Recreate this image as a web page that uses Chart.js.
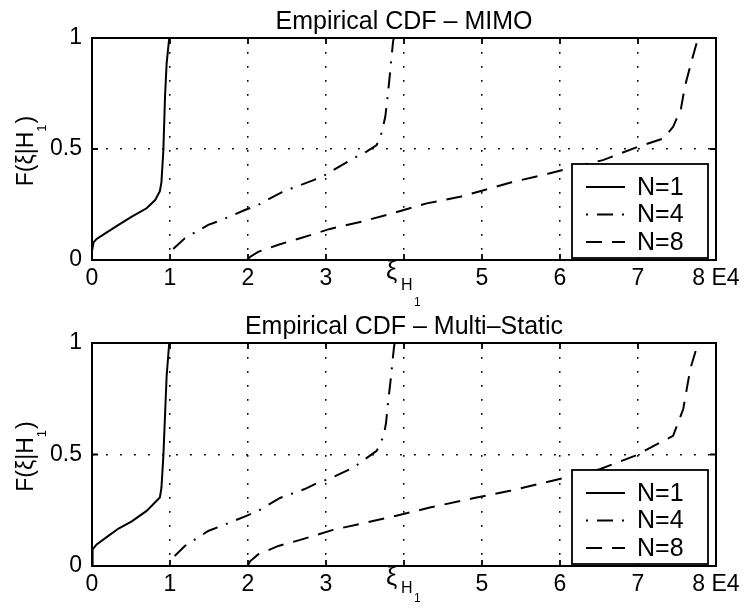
<!DOCTYPE html>
<html>
<head>
<meta charset="utf-8">
<script src="https://cdn.jsdelivr.net/npm/chart.js@4"></script>
<style>
  body { margin: 0; background: #fff; width: 749px; height: 610px; position: relative; overflow: hidden; }
  canvas { position: absolute; left: 0; display: block; }
  #mimoChart { top: 0; }
  #multiChart { top: 305px; }
</style>
</head>
<body>
<canvas id="mimoChart" width="749" height="320"></canvas>
<canvas id="multiChart" width="749" height="305"></canvas>
<script>
/* ---------- DATA (x in units of 1E4, y = empirical CDF) ---------- */
const seriesLabels = ["N=1", "N=4", "N=8"];
const xTicks = [0, 1, 2, 3, 4, 5, 6, 7, 8];
const xTickLabels = ["0", "1", "2", "3", "", "5", "6", "7", "8 E4"];
const yTicks = [0, 0.5, 1];

const mimoN1 = [[0, 0.04], [0.02, 0.08], [0.06, 0.095], [0.17, 0.12], [0.34, 0.158], [0.51, 0.195],
  [0.70, 0.233], [0.81, 0.27], [0.87, 0.31], [0.89, 0.35], [0.915, 0.495], [0.936, 0.735],
  [0.957, 0.886], [0.99, 1]];
const mimoN4 = [[1.04, 0.05], [1.19, 0.098], [1.49, 0.158], [1.66, 0.18], [1.96, 0.225], [2.13, 0.248],
  [2.43, 0.305], [2.84, 0.36], [2.99, 0.383], [3.35, 0.458], [3.52, 0.488], [3.65, 0.518],
  [3.71, 0.57], [3.76, 0.645], [3.79, 0.735], [3.82, 0.84], [3.86, 0.985], [3.87, 1]];
const mimoN8 = [[2.0, 0.005], [2.03, 0.015], [2.13, 0.037], [2.4, 0.07], [2.67, 0.098], [3.05, 0.14],
  [3.46, 0.173], [3.88, 0.213], [4.29, 0.255], [4.72, 0.285], [5.0, 0.312], [5.38, 0.35],
  [5.86, 0.39], [6.55, 0.45], [7.0, 0.51], [7.33, 0.548], [7.45, 0.6], [7.55, 0.68],
  [7.6, 0.78], [7.69, 0.9], [7.77, 1]];

const multiN1 = [[0, 0], [0.005, 0.045], [0.01, 0.075], [0.06, 0.097], [0.21, 0.135], [0.34, 0.168],
  [0.51, 0.2], [0.70, 0.247], [0.87, 0.307], [0.89, 0.35], [0.915, 0.494], [0.957, 0.853],
  [0.99, 1]];
const multiN4 = [[1.06, 0.045], [1.19, 0.09], [1.49, 0.157], [1.71, 0.187], [1.98, 0.225], [2.13, 0.247],
  [2.41, 0.305], [2.72, 0.344], [2.9, 0.374], [3.05, 0.392], [3.35, 0.441], [3.5, 0.479],
  [3.65, 0.516], [3.74, 0.584], [3.77, 0.643], [3.8, 0.748], [3.83, 0.838], [3.87, 0.976], [3.88, 1]];
const multiN8 = [[2.0, 0.005], [2.03, 0.022], [2.13, 0.052], [2.39, 0.09], [2.67, 0.117], [2.84, 0.135],
  [3.09, 0.162], [3.48, 0.192], [3.9, 0.225], [4.33, 0.262], [4.9, 0.305], [5.36, 0.337],
  [6.13, 0.401], [6.51, 0.434], [6.98, 0.497], [7.45, 0.584], [7.58, 0.704], [7.67, 0.883], [7.77, 1]];

/* ---------- STYLE ---------- */
const FONT = "'Liberation Sans', Arial, Helvetica, sans-serif";
const lineDashes = [[], [16, 9, 2, 9], [16, 10]];
const legendDashOffset = [0, 25, 0];

/* ---------- MATLAB-LOOK AXES: frame, inner ticks, legend, labels ---------- */
const matlabAxes = {
  id: "matlabAxes",
  afterDraw(chart, args, opts) {
    const { ctx, chartArea: a, scales: { x, y } } = chart;
    ctx.save();
    ctx.strokeStyle = "#000";
    ctx.fillStyle = "#000";

    // box frame
    ctx.lineWidth = 2;
    ctx.strokeRect(a.left, a.top, a.right - a.left, a.bottom - a.top);

    // tick marks pointing inward on all four sides
    ctx.lineWidth = 1.8;
    ctx.beginPath();
    xTicks.forEach(v => {
      const px = x.getPixelForValue(v);
      ctx.moveTo(px, a.bottom); ctx.lineTo(px, a.bottom - 6);
      ctx.moveTo(px, a.top); ctx.lineTo(px, a.top + 6);
    });
    yTicks.forEach(v => {
      const py = y.getPixelForValue(v);
      ctx.moveTo(a.left, py); ctx.lineTo(a.left + 6, py);
      ctx.moveTo(a.right, py); ctx.lineTo(a.right - 6, py);
    });
    ctx.stroke();

    // legend box, lower right
    const bw = 136, bh = 94;
    const bx = a.right - 8 - bw, by = a.bottom - 2 - bh;
    ctx.fillStyle = "#fff";
    ctx.fillRect(bx, by, bw, bh);
    ctx.lineWidth = 1.8;
    ctx.strokeRect(bx, by, bw, bh);
    ctx.fillStyle = "#000";
    ctx.font = `25px ${FONT}`;
    ctx.textAlign = "left";
    ctx.textBaseline = "middle";
    chart.data.datasets.forEach((ds, i) => {
      const ry = by + 23 + i * 27.5;
      ctx.save();
      ctx.lineWidth = 2;
      ctx.setLineDash(ds.borderDash || []);
      ctx.lineDashOffset = legendDashOffset[i];
      ctx.beginPath();
      ctx.moveTo(bx + 14, ry);
      ctx.lineTo(bx + 53, ry);
      ctx.stroke();
      ctx.restore();
      ctx.fillText(ds.label, bx + 65, ry + 1);
    });

    // title
    ctx.textAlign = "center";
    ctx.textBaseline = "alphabetic";
    ctx.font = `25px ${FONT}`;
    ctx.fillText(opts.title, (a.left + a.right) / 2, a.top - 9);

    // threshold tick label at x = 4
    const xi = x.getPixelForValue(4);
    ctx.textAlign = "left";
    ctx.font = `25px ${FONT}`;
    ctx.fillText("ξ", xi - 18, a.bottom + 19);
    ctx.font = `16px ${FONT}`;
    ctx.fillText("H", xi - 3, a.bottom + opts.hOffset);
    ctx.font = `12px ${FONT}`;
    ctx.fillText("1", xi + 10, a.bottom + opts.subOffset);

    // y axis label F(ξ|H1)
    ctx.translate(33, (a.top + a.bottom) / 2 + 2);
    ctx.rotate(-Math.PI / 2);
    ctx.font = `23px ${FONT}`;
    const w1 = ctx.measureText("F(ξ|H").width;
    const w3 = ctx.measureText(")").width;
    ctx.font = `13px ${FONT}`;
    const w2 = ctx.measureText("1").width + 1;
    let tx = -(w1 + w2 + w3) / 2;
    ctx.font = `23px ${FONT}`;
    ctx.fillText("F(ξ|H", tx, 0);
    tx += w1;
    ctx.font = `13px ${FONT}`;
    ctx.fillText("1", tx, 13);
    tx += w2;
    ctx.font = `23px ${FONT}`;
    ctx.fillText(")", tx, 0);

    ctx.restore();
  }
};

/* ---------- CHARTS ---------- */
function makeChart(id, title, series, xAxisHeight, hOffset, subOffset) {
  return new Chart(document.getElementById(id), {
    type: "line",
    data: {
      datasets: series.map((pts, i) => ({
        label: seriesLabels[i],
        data: pts.map(([px, py]) => ({ x: px, y: py })),
        borderColor: "#000",
        borderWidth: 2,
        borderDash: lineDashes[i],
        pointRadius: 0,
        tension: 0,
        fill: false
      }))
    },
    options: {
      responsive: false,
      animation: false,
      devicePixelRatio: 1,
      layout: { padding: { top: 38, right: 33, left: 0, bottom: 0 } },
      plugins: {
        legend: { display: false },
        tooltip: { enabled: false },
        matlabAxes: { title, hOffset, subOffset }
      },
      scales: {
        x: {
          type: "linear",
          min: 0,
          max: 8,
          afterBuildTicks: s => { s.ticks = xTicks.map(v => ({ value: v })); },
          afterFit: s => { s.height = xAxisHeight; },
          ticks: {
            autoSkip: false,
            maxRotation: 0,
            padding: 5,
            color: "#000",
            font: { family: FONT, size: 23 },
            callback: v => xTickLabels[xTicks.indexOf(v)]
          },
          grid: {
            drawTicks: false,
            lineWidth: 1.5,
            color: c => (c.tick && c.tick.value > 0 && c.tick.value < 8) ? "#000" : "rgba(0,0,0,0)"
          },
          border: { display: false, dash: [1.8, 12.2] }
        },
        y: {
          min: 0,
          max: 1,
          afterBuildTicks: s => { s.ticks = yTicks.map(v => ({ value: v })); },
          afterFit: s => { s.width = 92; },
          ticks: {
            padding: 10,
            color: "#000",
            font: { family: FONT, size: 23 },
            callback: v => String(v)
          },
          grid: {
            drawTicks: false,
            lineWidth: 1.5,
            color: c => (c.tick && c.tick.value > 0 && c.tick.value < 1) ? "#000" : "rgba(0,0,0,0)"
          },
          border: { display: false, dash: [1.8, 12.2] }
        }
      }
    },
    plugins: [matlabAxes]
  });
}

makeChart("mimoChart", "Empirical CDF – MIMO", [mimoN1, mimoN4, mimoN8], 60, 30, 46);
makeChart("multiChart", "Empirical CDF – Multi–Static", [multiN1, multiN4, multiN8], 44, 27, 36);
</script>
</body>
</html>
